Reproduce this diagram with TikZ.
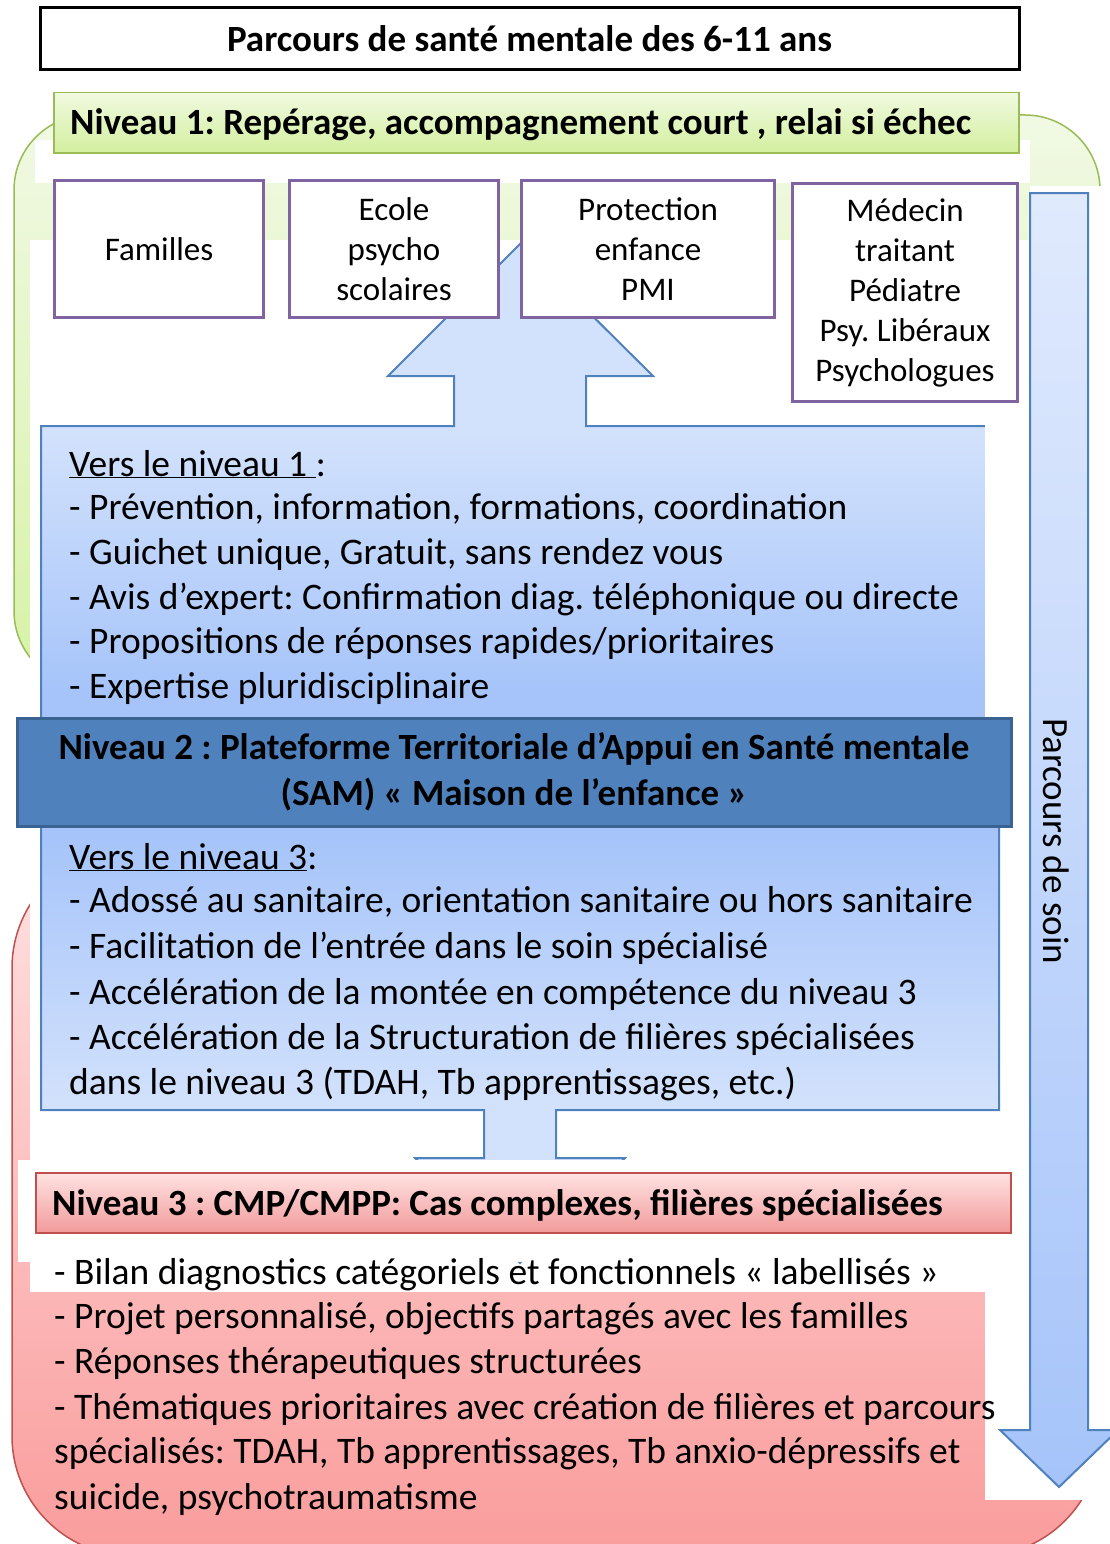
\documentclass[tikz,border=0pt]{standalone}
\usepackage{fontspec}
\setmainfont{Carlito}
\definecolor{grnB}{HTML}{9BBB59}
\definecolor{grnT}{HTML}{F1F9E4}
\definecolor{grnM}{HTML}{D6F2A6}
\definecolor{redB}{HTML}{C0504D}
\definecolor{redT}{HTML}{FFE2E2}
\definecolor{redM}{HTML}{FA9C9C}
\definecolor{bluB}{HTML}{4F81BD}
\definecolor{bluL}{HTML}{D3E2FC}
\definecolor{bluD}{HTML}{A6C4FA}
\definecolor{bluTop}{HTML}{E0EAFD}
\definecolor{lvlTwo}{HTML}{4F81BD}
\definecolor{lvlTwoB}{HTML}{3A6293}
\definecolor{purp}{HTML}{8064A2}
\definecolor{hdrGT}{HTML}{F0FADF}
\definecolor{hdrGB}{HTML}{D3EF9F}
\definecolor{hdrRT}{HTML}{FFE2E2}
\definecolor{hdrRB}{HTML}{F29A9A}
\pgfdeclareverticalshading{bluarrow}{100bp}{color(0bp)=(bluL); color(32.5bp)=(bluL); color(46bp)=(bluD); color(53bp)=(bluD); color(66bp)=(bluL); color(100bp)=(bluL)}
\begin{document}
\frenchspacing
\begin{tikzpicture}[x=1pt,y=-1pt,
  purplebox/.style={draw=purp, line width=3pt, fill=white, align=center, anchor=north west, inner sep=0pt,
     font=\fontsize{33}{40}\selectfont},
  listline/.style={anchor=base west, inner sep=0pt, font=\fontsize{37.5}{44}\selectfont},
  boldtxt/.style={font=\fontsize{37}{46}\selectfont\bfseries},
  hdrtext/.style={anchor=base west, inner sep=0pt, boldtxt},
  coverw/.style={fill=white}
]
\useasboundingbox (0,0) rectangle (1109,1544);
% large background shapes
\path[draw=grnB, line width=1.5pt, top color=grnT, bottom color=grnM, rounded corners=75pt]
  (14,115) rectangle (1100,686);
\path[draw=redB, line width=1.5pt, top color=redT, bottom color=redM, rounded corners=120pt]
  (12,848) rectangle (1100,1556);
% white text-box backgrounds
\fill[coverw] (35,140) rectangle (1030,183);
\fill[coverw] (30,240) rectangle (1109,1160);
\fill[coverw] (1030,186) rectangle (1109,240);
\fill[coverw] (985,1160) rectangle (1109,1500);
\fill[coverw] (30,1262) rectangle (985,1292);
% up-down block arrow
\path[draw=bluB, line width=2pt, shading=bluarrow]
  (520,244) -- (653,376) -- (586,376) -- (586,426) -- (999,426) -- (999,1110)
  -- (556,1110) -- (556,1158) -- (625,1158) -- (520,1263) -- (415,1158)
  -- (484,1158) -- (484,1110) -- (41,1110) -- (41,426) -- (454,426)
  -- (454,376) -- (388,376) -- cycle;
\fill[coverw] (985,424) rectangle (1002,717);
\fill[coverw] (18,1160) rectangle (1010,1262);
% right arrow
\path[draw=bluB, line width=2pt, top color=bluTop, bottom color=bluD]
  (1030,193) -- (1088,193) -- (1088,1430) -- (1118,1430) -- (1059,1487)
  -- (1000,1430) -- (1030,1430) -- cycle;
\node[rotate=-90, inner sep=0pt, font=\fontsize{37}{44}\selectfont] (soin) at (1056,841) {Parcours de soin};
% title
\node[draw=black, line width=3pt, minimum width=979pt, minimum height=62pt, inner sep=0pt, boldtxt]
  (title) at (529.5,39) {Parcours de santé mentale des 6-11 ans};
% level 1 header
\node[draw=grnB, line width=1.5pt, top color=hdrGT, bottom color=hdrGB, anchor=north west,
  minimum width=965pt, minimum height=60pt, inner sep=0pt] (niv1) at (53,92) {};
\node[hdrtext] (niv1t) at (70,135) {Niveau 1: Repérage, accompagnement court , relai si échec};
% actor boxes
\node[purplebox, minimum width=209pt, minimum height=137pt] (fam) at (53,179) {Familles};
\node[purplebox, minimum width=209pt, minimum height=137pt] (ecole) at (288,179) {Ecole\\psycho\\scolaires};
\node[purplebox, minimum width=253pt, minimum height=137pt] (prot) at (520,179) {Protection\\enfance\\PMI};
\node[purplebox, minimum width=225pt, minimum height=218pt] (med) at (791,182) {Médecin\\traitant\\Pédiatre\\Psy. Libéraux\\Psychologues};
% level 1 list
\node[listline] (a0) at (69,476) {\underline{Vers le niveau 1~}:};
\node[listline] (a1) at (69,519) {- Prévention, information, formations, coordination};
\node[listline] (a2) at (69,564) {- Guichet unique, Gratuit, sans rendez vous};
\node[listline] (a3) at (69,609) {- Avis d’expert: Confirmation diag. téléphonique ou directe};
\node[listline] (a4) at (69,653) {- Propositions de réponses rapides/prioritaires};
\node[listline] (a5) at (69,698) {- Expertise pluridisciplinaire};
% level 2
\node[draw=lvlTwoB, line width=3pt, fill=lvlTwo, minimum width=994pt, minimum height=108pt,
  inner sep=0pt, align=center, boldtxt] (niv2) at (514,772)
  {Niveau 2 : Plateforme Territoriale d’Appui en Santé mentale\\(SAM) « Maison de l’enfance »};
% level 3 list (in blue)
\node[listline] (b0) at (69,869) {\underline{Vers le niveau 3}:};
\node[listline] (b1) at (69,912) {- Adossé au sanitaire, orientation sanitaire ou hors sanitaire};
\node[listline] (b2) at (69,958) {- Facilitation de l’entrée dans le soin spécialisé};
\node[listline] (b3) at (69,1004) {- Accélération de la montée en compétence du niveau 3};
\node[listline] (b4) at (69,1049) {- Accélération de la Structuration de filières spécialisées};
\node[listline] (b5) at (69,1094) {dans le niveau 3 (TDAH, Tb apprentissages, etc.)};
% level 3 header
\node[draw=redB, line width=2pt, top color=hdrRT, bottom color=hdrRB, anchor=north west,
  minimum width=975pt, minimum height=60pt, inner sep=0pt] (niv3) at (35,1172) {};
\node[hdrtext] (niv3t) at (52,1215) {Niveau 3 : CMP/CMPP: Cas complexes, filières spécialisées};
% level 3 list
\node[listline] (c1) at (54,1284) {- Bilan diagnostics catégoriels et fonctionnels « labellisés »};
\node[listline] (c2) at (54,1328) {- Projet personnalisé, objectifs partagés avec les familles};
\node[listline] (c3) at (54,1373) {- Réponses thérapeutiques structurées};
\node[listline] (c4) at (54,1419) {- Thématiques prioritaires avec création de filières et parcours};
\node[listline] (c5) at (54,1463) {spécialisés: TDAH, Tb apprentissages, Tb anxio-dépressifs et};
\node[listline] (c6) at (54,1509) {suicide, psychotraumatisme};
\end{tikzpicture}
\end{document}
